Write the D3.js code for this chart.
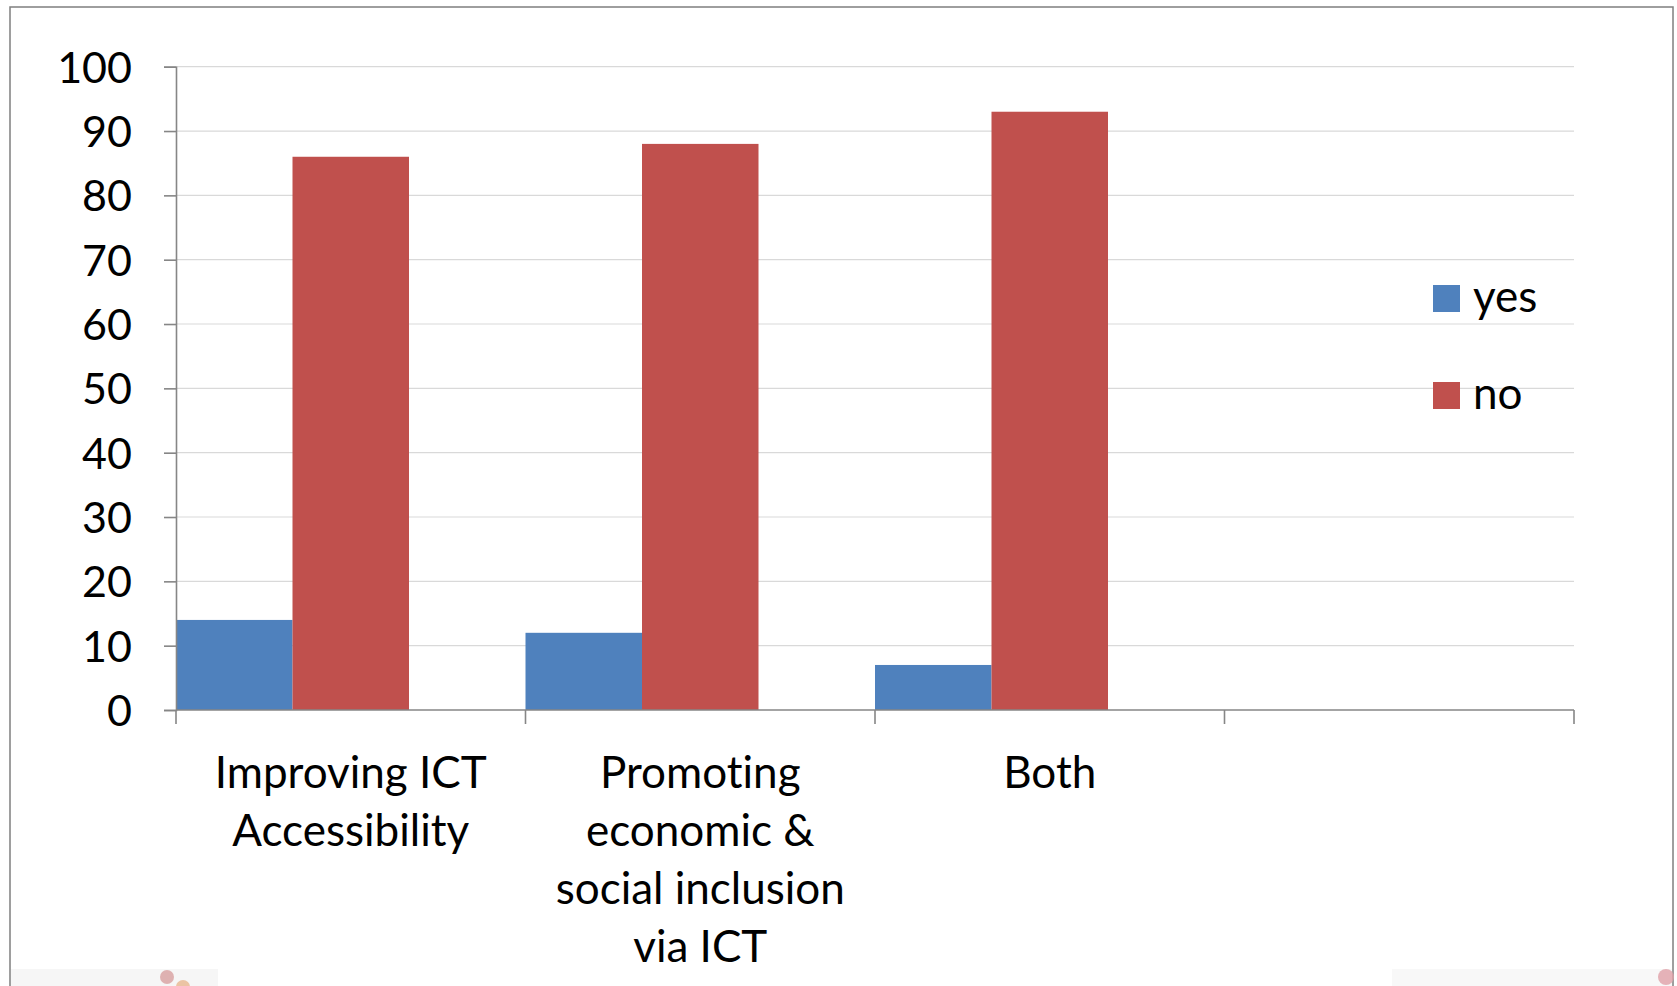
<!DOCTYPE html>
<html>
<head>
<meta charset="utf-8">
<script src="https://cdn.jsdelivr.net/npm/d3@7"></script>
<style>
  html, body { margin: 0; padding: 0; background: #fff; }
  svg { display: block; }
  text { font-family: Lato, "Open Sans", sans-serif; fill: #000; font-variant-ligatures: none; font-feature-settings: "liga" 0, "clig" 0; }
</style>
</head>
<body>
<div id="chart"></div>
<script>
// data
const categories = ["Improving ICT Accessibility", "Promoting economic & social inclusion via ICT", "Both", ""];
const categoryLines = [["Improving ICT", "Accessibility"], ["Promoting", "economic &", "social inclusion", "via ICT"], ["Both"], []];
const seriesNames = ["yes", "no"];
const yesValues = [14, 12, 7];
const noValues = [86, 88, 93];
const yTicks = [0, 10, 20, 30, 40, 50, 60, 70, 80, 90, 100];
const seriesColors = ["#4f81bd", "#c0504d"];

const W = 1677, H = 986;
const plot = { left: 176, right: 1574, top: 66.7, bottom: 710 };

const svg = d3.select('#chart').append('svg')
  .attr('width', W)
  .attr('height', H);

// outer frame of the chart object
svg.append('rect')
  .attr('x', 10).attr('y', 7)
  .attr('width', 1663).attr('height', 1000)
  .attr('fill', 'none')
  .attr('stroke', '#7f7f7f')
  .attr('stroke-width', 1.5);

let x = d3.scaleBand()
  .domain(categories)
  .range([plot.left, plot.right])
  .padding(0);

// third (empty) slot keeps the bars flush to the left of each category
let x1 = d3.scaleBand()
  .domain(["yes", "no", "blank"])
  .range([0, x.bandwidth()])
  .padding(0);

let y = d3.scaleLinear()
  .domain([0, 100])
  .range([plot.bottom, plot.top]);

//gridlines
svg.append('g')
  .selectAll('line')
  .data(yTicks.filter(d => d > 0))
  .join('line')
    .attr('x1', plot.left).attr('x2', plot.right)
    .attr('y1', d => y(d)).attr('y2', d => y(d))
    .attr('stroke', '#d9d9d9')
    .attr('stroke-width', 1.2);

// bars
const rows = categories.slice(0, 3).map((c, i) => ({ cat: c, yes: yesValues[i], no: noValues[i] }));

svg.append('g')
  .selectAll('g')
  .data(rows)
  .join('g')
    .attr('transform', d => `translate(${x(d.cat)},0)`)
  .selectAll('rect')
  .data(d => seriesNames.map(s => ({ key: s, value: d[s] })))
  .join('rect')
    .attr('x', d => x1(d.key))
    .attr('y', d => y(d.value))
    .attr('width', x1.bandwidth())
    .attr('height', d => y(0) - y(d.value))
    .attr('fill', (d, i) => seriesColors[i]);

// y axis
let yAxis = d3.axisLeft(y)
  .tickValues(yTicks)
  .tickSize(12)
  .tickPadding(32)
  .tickFormat(d3.format('d'));

let yG = svg.append('g')
  .attr('transform', `translate(${plot.left},0)`)
  .call(yAxis);
yG.select('.domain').attr('stroke', '#868686').attr('stroke-width', 1.6);
yG.selectAll('.tick line').attr('stroke', '#868686').attr('stroke-width', 1.6);
yG.selectAll('.tick text')
  .attr('font-size', 43)
  .attr('font-family', 'Lato, sans-serif')
  .attr('dy', '0.36em');

// x axis, ticks on the category boundaries
let xG = svg.append('g')
  .attr('transform', `translate(0,${plot.bottom})`);
xG.append('line')
  .attr('x1', plot.left).attr('x2', plot.right)
  .attr('stroke', '#868686').attr('stroke-width', 1.6);
xG.selectAll('line.tk')
  .data(categories.map(c => x(c)).concat([plot.right]))
  .join('line')
    .attr('class', 'tk')
    .attr('x1', d => d).attr('x2', d => d)
    .attr('y1', 0).attr('y2', 14)
    .attr('stroke', '#868686').attr('stroke-width', 1.6);

// category labels
svg.append('g')
  .selectAll('text')
  .data(categories)
  .join('text')
    .attr('x', d => x(d) + x.bandwidth() / 2)
    .attr('y', 788)
    .attr('text-anchor', 'middle')
    .attr('font-size', 44)
    .selectAll('tspan')
    .data((d, i) => categoryLines[i])
    .join('tspan')
      .attr('x', function() { return this.parentNode.getAttribute('x'); })
      .attr('dy', (d, i) => i === 0 ? 0 : 58)
      .text(d => d);

// legend
let legend = svg.append('g')
  .attr('transform', 'translate(1433,285)');
let items = legend.selectAll('g')
  .data(seriesNames)
  .join('g')
    .attr('transform', (d, i) => `translate(0,${i * 97})`);
items.append('rect')
  .attr('width', 27).attr('height', 27)
  .attr('fill', (d, i) => seriesColors[i]);
items.append('text')
  .attr('x', 40)
  .attr('y', 27)
  .attr('font-size', 44)
  .text(d => d);

// faint strip of the slide behind, at the bottom edge
svg.append('rect').attr('x', 11).attr('y', 969).attr('width', 207).attr('height', 17).attr('fill', '#f6f6f6');
svg.append('rect').attr('x', 1392).attr('y', 969).attr('width', 280).attr('height', 17).attr('fill', '#f8f8f8');
svg.append('circle').attr('cx', 167).attr('cy', 977).attr('r', 7).attr('fill', '#d8a0a0').attr('opacity', 0.8);
svg.append('circle').attr('cx', 183).attr('cy', 987).attr('r', 7).attr('fill', '#e8b890').attr('opacity', 0.8);
svg.append('circle').attr('cx', 1666).attr('cy', 977).attr('r', 8).attr('fill', '#e0a0a8').attr('opacity', 0.8);
</script>
</body>
</html>
